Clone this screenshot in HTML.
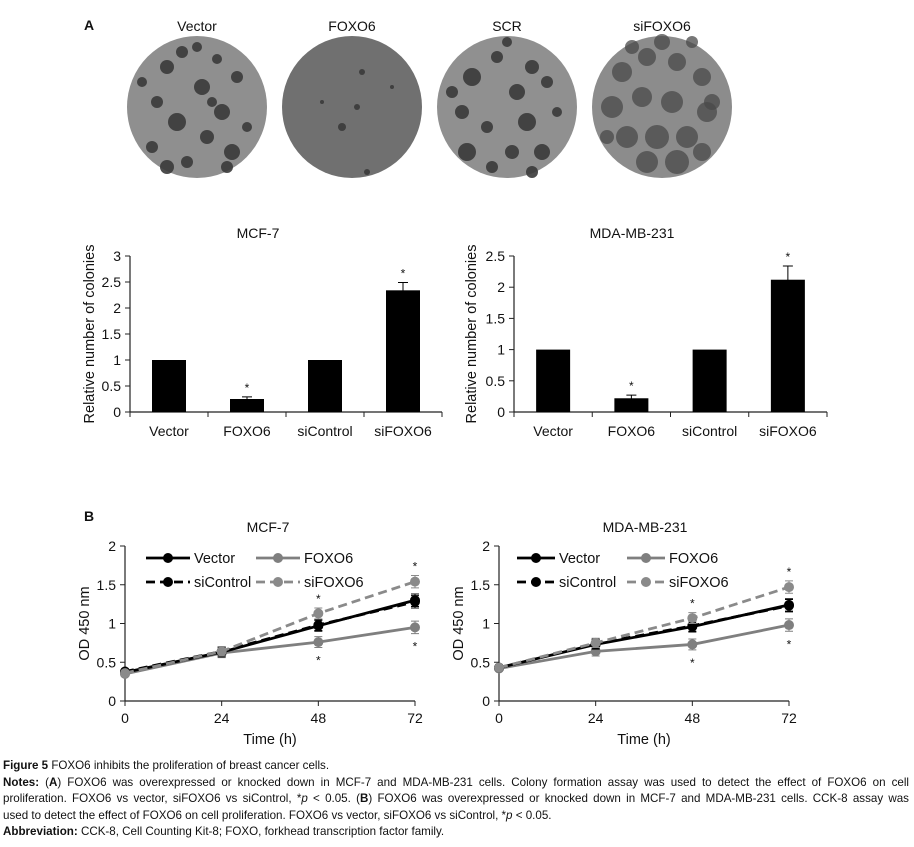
<!DOCTYPE html>
<html><head><meta charset="utf-8">
<style>
body{margin:0;background:#fff;width:914px;height:847px;overflow:hidden;position:relative;font-family:"Liberation Sans",sans-serif}
svg{position:absolute;left:0;top:0}
.cap{position:absolute;left:3px;width:906px;font-size:11.6px;line-height:16.5px;color:#111;white-space:nowrap}
.j{text-align:justify;text-align-last:justify;white-space:normal}
</style></head><body>
<svg id="fig" width="914" height="760" font-family="Liberation Sans, sans-serif"></svg>
<div class="cap" style="top:758px"><b>Figure 5</b> FOXO6 inhibits the proliferation of breast cancer cells.</div>
<div class="cap j" style="top:774.5px"><b>Notes:</b> (<b>A</b>) FOXO6 was overexpressed or knocked down in MCF-7 and MDA-MB-231 cells. Colony formation assay was used to detect the effect of FOXO6 on cell</div>
<div class="cap j" style="top:791px">proliferation. FOXO6 vs vector, siFOXO6 vs siControl, *<i>p</i> &lt; 0.05. (<b>B</b>) FOXO6 was overexpressed or knocked down in MCF-7 and MDA-MB-231 cells. CCK-8 assay was</div>
<div class="cap" style="top:807.5px">used to detect the effect of FOXO6 on cell proliferation. FOXO6 vs vector, siFOXO6 vs siControl, *<i>p</i> &lt; 0.05.</div>
<div class="cap" style="top:824px"><b>Abbreviation:</b> CCK-8, Cell Counting Kit-8; FOXO, forkhead transcription factor family.</div>
<script>
// ---- data ----
const barCategories = ["Vector","FOXO6","siControl","siFOXO6"];
const mcfBarValues = [1, 0.25, 1, 2.34];
const mcfBarErrors = [0, 0.04, 0, 0.15];
const mdaBarValues = [1, 0.22, 1, 2.12];
const mdaBarErrors = [0, 0.05, 0, 0.22];
const mcfBarTicks = [0,0.5,1,1.5,2,2.5,3];
const mdaBarTicks = [0,0.5,1,1.5,2,2.5];
const timePoints = [0,24,48,72];
const odTicks = [0,0.5,1,1.5,2];
const mcfVector = [0.37,0.63,0.97,1.30];
const mcfSiControl = [0.38,0.64,0.98,1.28];
const mcfFoxo6 = [0.35,0.62,0.76,0.95];
const mcfSiFoxo6 = [0.36,0.64,1.13,1.54];
const mdaVector = [0.43,0.73,0.96,1.24];
const mdaSiControl = [0.43,0.74,0.97,1.23];
const mdaFoxo6 = [0.42,0.64,0.73,0.98];
const mdaSiFoxo6 = [0.43,0.75,1.07,1.47];
const lineErr = [0.03,0.06,0.07,0.08];

const NS="http://www.w3.org/2000/svg";
const svg=document.getElementById('fig');
function mk(tag,attrs,parent,name){const e=document.createElementNS(NS,tag);for(const k in attrs)e.setAttribute(k,attrs[k]);(parent||svg).appendChild(e);


return e;}
function txt(x,y,s,size,anchor,parent,name,extra){const t=mk('text',Object.assign({x:x,y:y,'font-size':size,'text-anchor':anchor||'middle',fill:'#111'},extra||{}),parent,name);t.textContent=s;return t;}

// ---- colony plates ----
txt(84,30,"A",14,'start',null,'panel-a-label',{'font-weight':'bold'});
const plates=[{c:197,l:"Vector",n:'vector'},{c:352,l:"FOXO6",n:'foxo6'},{c:507,l:"SCR",n:'scr'},{c:662,l:"siFOXO6",n:'sifoxo6'}];
const spotSets=[
 [[-30,-40,7],[-15,-55,6],[20,-48,5],[5,-20,8],[-40,-5,6],[-20,15,9],[25,5,8],[40,-30,6],[10,30,7],[-45,40,6],[35,45,8],[-10,55,6],[50,20,5],[-55,-25,5],[0,-60,5],[30,60,6],[-30,60,7],[15,-5,5]],
 [[10,-35,3],[-30,-5,2],[5,0,3],[-10,20,4],[40,-20,2],[15,65,3]],
 [[-35,-30,9],[-10,-50,6],[25,-40,7],[10,-15,8],[-45,5,7],[-20,20,6],[20,15,9],[40,-25,6],[5,45,7],[-40,45,9],[35,45,8],[-15,60,6],[50,5,5],[0,-65,5],[-55,-15,6],[25,65,6]],
 [[-40,-35,10],[-15,-50,9],[15,-45,9],[40,-30,9],[-50,0,11],[-20,-10,10],[10,-5,11],[45,5,10],[-35,30,11],[-5,30,12],[25,30,11],[-15,55,11],[15,55,12],[40,45,9],[0,-65,8],[-55,30,7],[50,-5,8],[30,-65,6],[-30,-60,7]]
];
const baseFill=['#8f8f8f','#707070','#909090','#8c8c8c'];
plates.forEach((p,i)=>{
  txt(p.c,31,p.l,14,'middle',null,'plate-label-'+p.n);
  mk('ellipse',{cx:p.c,cy:107,rx:70,ry:71,fill:baseFill[i]},null,'colony-plate-'+p.n);
  spotSets[i].forEach(s=>mk('circle',{cx:p.c+s[0],cy:107+s[1],r:s[2],fill:i==3?'#4a4a4a':'#3a3a3a',opacity:i==3?0.75:0.9},null,'colony-spot'));
});

// ---- bar charts ----
function barChart(o){
  const g=mk('g',{},null,o.name);
  const y=v=>o.y0-(v-0)*(o.y0-o.yTop)/o.ticks[o.ticks.length-1];
  const band=(o.x1-o.x0)/o.cats.length;
  txt(o.titleX,238,o.title,14,'middle',g,'bar-chart-title');
  mk('line',{x1:o.x0,y1:o.yTop,x2:o.x0,y2:o.y0,stroke:'#222','stroke-width':1.2},g,'y-axis');
  mk('line',{x1:o.x0,y1:o.y0,x2:o.x1,y2:o.y0,stroke:'#222','stroke-width':1.2},g,'x-axis');
  o.ticks.forEach(t=>{mk('line',{x1:o.x0-5,x2:o.x0,y1:y(t),y2:y(t),stroke:'#222'},g,'y-tick');txt(o.x0-9,y(t)+5,String(t),14,'end',g,'y-tick-label');});
  for(let i=0;i<=o.cats.length;i++)mk('line',{x1:o.x0+band*i,x2:o.x0+band*i,y1:o.y0,y2:o.y0+5,stroke:'#222'},g,'x-tick');
  const tx=o.x0-o.titleOff;
  const t=txt(tx,(o.y0+o.yTop)/2+5,"Relative number of colonies",14.5,'middle',g,'y-axis-title');
  t.setAttribute('transform',`rotate(-90 ${tx} ${(o.y0+o.yTop)/2})`);
  o.cats.forEach((c,i)=>{
    const cx=o.x0+band*(i+0.5),v=o.vals[i],e=o.errs[i];
    mk('rect',{x:cx-17,y:y(v),width:34,height:o.y0-y(v),fill:'#000'},g,'bar-'+c.toLowerCase());
    if(e>0){mk('path',{d:`M${cx-5} ${y(v+e)}H${cx+5}M${cx} ${y(v+e)}V${y(v-e)}M${cx-5} ${y(v-e)}H${cx+5}`,stroke:'#000',fill:'none'},g,'error-bar');
      txt(cx,y(v+e)-5,"*",12,'middle',g,'significance-star');}
    txt(cx,o.y0+24,c,14,'middle',g,'x-tick-label');
  });
}
barChart({name:'bar-chart-mcf7',title:'MCF-7',titleX:258,x0:130,x1:442,y0:412,yTop:256,titleOff:41,ticks:mcfBarTicks,cats:barCategories,vals:mcfBarValues,errs:mcfBarErrors});
barChart({name:'bar-chart-mda',title:'MDA-MB-231',titleX:632,x0:514,x1:827,y0:412,yTop:256,titleOff:43,ticks:mdaBarTicks,cats:barCategories,vals:mdaBarValues,errs:mdaBarErrors});

// ---- line charts ----
txt(84,521,"B",14,'start',null,'panel-b-label',{'font-weight':'bold'});
function lineChart(o){
  const g=mk('g',{},null,o.name);
  const y=v=>o.y0-v*(o.y0-o.yTop)/2;
  const x=t=>o.x0+t*(o.x72-o.x0)/72;
  txt(o.titleX,532,o.title,14,'middle',g,'line-chart-title');
  mk('line',{x1:o.x0,y1:o.yTop,x2:o.x0,y2:o.y0,stroke:'#222','stroke-width':1.2},g,'y-axis');
  mk('line',{x1:o.x0,y1:o.y0,x2:x(72),y2:o.y0,stroke:'#222','stroke-width':1.2},g,'x-axis');
  odTicks.forEach(t=>{mk('line',{x1:o.x0-5,x2:o.x0,y1:y(t),y2:y(t),stroke:'#222'},g,'y-tick');txt(o.x0-9,y(t)+5,String(t),14,'end',g,'y-tick-label');});
  timePoints.forEach(t=>{mk('line',{x1:x(t),x2:x(t),y1:o.y0,y2:o.y0+5,stroke:'#222'},g,'x-tick');txt(x(t),o.y0+22,String(t),14,'middle',g,'x-tick-label');});
  txt((o.x0+x(72))/2,o.y0+43,"Time (h)",14.5,'middle',g,'x-axis-title');
  const yt=txt(o.x0-36,(o.y0+o.yTop)/2,"OD 450 nm",14.5,'middle',g,'y-axis-title');
  yt.setAttribute('transform',`rotate(-90 ${o.x0-36} ${(o.y0+o.yTop)/2})`);
  const series=[
    {v:o.foxo6,c:'#7f7f7f',d:'',n:'foxo6'},
    {v:o.siControl,c:'#000',d:'9 5',n:'sicontrol'},
    {v:o.vector,c:'#000',d:'',n:'vector'},
    {v:o.siFoxo6,c:'#8a8a8a',d:'9 5',n:'sifoxo6'}];
  series.forEach(s=>{
    mk('polyline',{points:timePoints.map((t,i)=>x(t)+','+y(s.v[i])).join(' '),fill:'none',stroke:s.c,'stroke-width':2.8,'stroke-dasharray':s.d},g,'line-'+s.n);
    timePoints.forEach((t,i)=>{
      const e=lineErr[i];
      mk('path',{d:`M${x(t)-4} ${y(s.v[i]+e)}H${x(t)+4}M${x(t)} ${y(s.v[i]+e)}V${y(s.v[i]-e)}M${x(t)-4} ${y(s.v[i]-e)}H${x(t)+4}`,stroke:s.c,fill:'none'},g,'error-bar');
      mk('circle',{cx:x(t),cy:y(s.v[i]),r:5,fill:s.c},g,'point-'+s.n);
    });
  });
  [2,3].forEach(i=>{
    txt(x(timePoints[i]),y(o.siFoxo6[i]+lineErr[i])-5,"*",12,'middle',g,'significance-star');
    txt(x(timePoints[i]),y(o.foxo6[i]-lineErr[i])+17,"*",12,'middle',g,'significance-star');
  });
  const L=o.leg;
  const items=[{c:'#000',d:'',l:'Vector',dx:0,dy:0},{c:'#7f7f7f',d:'',l:'FOXO6',dx:L.col,dy:0},{c:'#000',d:'9 5',l:'siControl',dx:0,dy:24},{c:'#8a8a8a',d:'9 5',l:'siFOXO6',dx:L.col,dy:24}];
  items.forEach(it=>{
    const lg=mk('g',{},g,'legend-entry-'+it.l.toLowerCase());
    mk('line',{x1:L.x+it.dx,x2:L.x+it.dx+L.len,y1:L.y+it.dy,y2:L.y+it.dy,stroke:it.c,'stroke-width':2.8,'stroke-dasharray':it.d},lg,'legend-line');
    mk('circle',{cx:L.x+it.dx+L.len/2,cy:L.y+it.dy,r:5,fill:it.c},lg,'legend-marker');
    txt(L.x+it.dx+L.len+4,L.y+it.dy+5,it.l,14.5,'start',lg,'legend-label');
  });
}
lineChart({name:'line-chart-mcf7',title:'MCF-7',titleX:268,x0:125,x72:415,y0:701,yTop:546,vector:mcfVector,siControl:mcfSiControl,foxo6:mcfFoxo6,siFoxo6:mcfSiFoxo6,leg:{x:146,y:558,len:44,col:110}});
lineChart({name:'line-chart-mda',title:'MDA-MB-231',titleX:645,x0:499,x72:789,y0:701,yTop:546,vector:mdaVector,siControl:mdaSiControl,foxo6:mdaFoxo6,siFoxo6:mdaSiFoxo6,leg:{x:517,y:558,len:38,col:110}});
</script>
</body></html>
